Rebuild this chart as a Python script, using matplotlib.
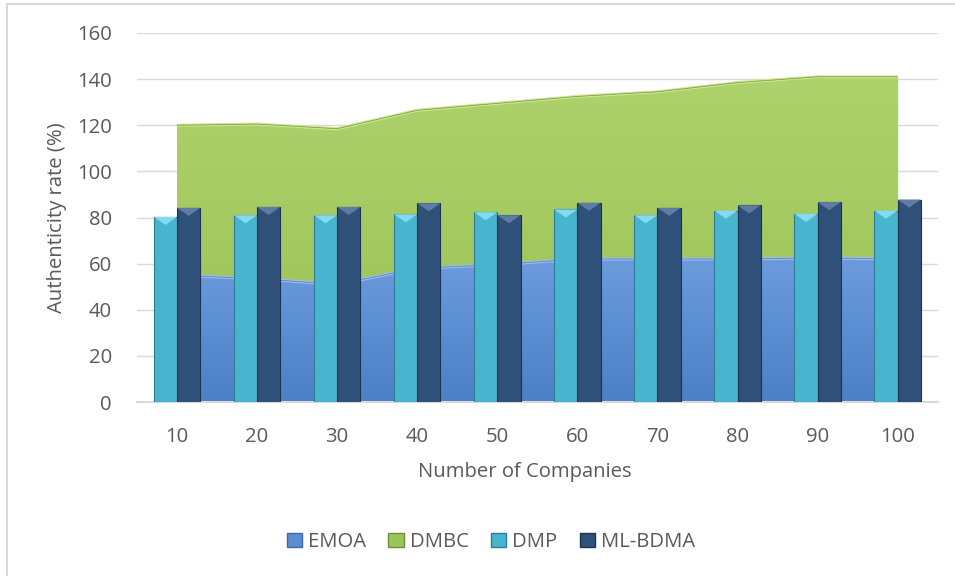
import matplotlib
matplotlib.use("Agg")
import matplotlib.pyplot as plt
import numpy as np
from matplotlib.patches import Patch, Polygon
from matplotlib.colors import LinearSegmentedColormap

# ---- data ----
categories = ["10", "20", "30", "40", "50", "60", "70", "80", "90", "100"]
emoa = [55, 53.5, 51, 58, 59.5, 62, 62, 62, 62.5, 62]
dmbc = [120, 120.5, 118.5, 126.5, 129.5, 132.5, 134.5, 138.5, 141, 141]
dmp = [80.3, 81, 81, 81.4, 82.3, 83.5, 81, 83, 81.6, 83]
ml_bdma = [84.2, 84.6, 84.6, 86.2, 81, 86.4, 84.2, 85.3, 86.7, 87.8]
y_ticks = [0, 20, 40, 60, 80, 100, 120, 140, 160]

plt.rcParams['font.family'] = ['Open Sans', 'DejaVu Sans']
txt = '#595959'
grid = '#D9D9D9'
fs = 14.6

fig = plt.figure(figsize=(9.55, 5.76), dpi=100)
ax = fig.add_axes([137 / 955, 1 - 402 / 576, (937.7 - 137) / 955, (402 - 33) / 576])
x = np.arange(len(categories))
ax.set_xlim(-0.5, len(categories) - 0.5)
ax.set_ylim(0, 160)

# grid
for t in y_ticks[1:]:
    ax.axhline(t, color=grid, lw=1.0, zorder=0)

# areas with vertical gradients
def grad_fill(xs, y0, y1, c_top, c_bot, z):
    poly = ax.fill_between(xs, y0, y1, color=c_top, lw=0, zorder=z)
    cmap = LinearSegmentedColormap.from_list('g', [c_bot, c_top])
    g = np.linspace(0, 1, 256).reshape(-1, 1)
    im = ax.imshow(g, cmap=cmap, aspect='auto', origin='lower',
                   extent=[xs[0], xs[-1], 0, max(y1)], zorder=z + 0.1)
    path = poly.get_paths()[0]
    im.set_clip_path(path, transform=ax.transData)
    return poly

grad_fill(x, emoa, dmbc, '#AED26C', '#98C054', 1)
ax.plot(x, dmbc, color='#CFE894', lw=2.2, zorder=1.3, solid_capstyle='butt')
ax.plot(x, dmbc, color='#7E9E44', lw=0.6, zorder=1.35)
grad_fill(x, np.zeros(len(x)), emoa, '#6C9CDE', '#4B7FC7', 2)
ax.plot(x, emoa, color='#9CC1F0', lw=2.2, zorder=2.3)
ax.plot(x, emoa, color='#5A7FB0', lw=0.6, zorder=2.35)

# bars
w = 0.29
b1 = ax.bar(x - w / 2, dmp, width=w, color='#47B5CD', edgecolor='#2A7F94', lw=0.8, zorder=3)
b2 = ax.bar(x + w / 2, ml_bdma, width=w, color='#2F5079', edgecolor='#1D3350', lw=0.8, zorder=3)

# bevel triangles at bar tops
fig.canvas.draw()
p0 = ax.transData.transform((0, 0))
p1 = ax.transData.transform((1, 1))
px_per_x = p1[0] - p0[0]
px_per_y = p1[1] - p0[1]
for bars, light in ((b1, '#86DAEE'), (b2, '#5F7CA6')):
    for r in bars:
        xl = r.get_x()
        xr = xl + r.get_width()
        top = r.get_height()
        tri_h = (r.get_width() * px_per_x * 0.35) / px_per_y
        ax.add_patch(Polygon([(xl, top), (xr, top), ((xl + xr) / 2, top - tri_h)],
                             closed=True, facecolor=light, edgecolor='none', zorder=3.2))

# axes styling
for s in ('top', 'right', 'left'):
    ax.spines[s].set_visible(False)
ax.spines['bottom'].set_color(grid)
ax.spines['bottom'].set_linewidth(1.5)
ax.set_xticks(x)
ax.set_xticklabels(categories)
ax.set_yticks(y_ticks)
ax.tick_params(axis='both', length=0, labelsize=fs, colors=txt)
ax.tick_params(axis='x', pad=18)
ax.tick_params(axis='y', pad=18)

fig.text(525 / 955, 1 - 472 / 576, 'Number of Companies', ha='center', va='center',
         fontsize=fs, color=txt)
fig.text(57 / 955, 1 - 218 / 576, 'Authenticity rate (%)', ha='center', va='center',
         rotation=90, fontsize=fs, color=txt)

handles = [Patch(facecolor='#5B8DD4', edgecolor='#3F6AA8'),
           Patch(facecolor='#9BC45A', edgecolor='#6E8F3A'),
           Patch(facecolor='#47B5CD', edgecolor='#2A7F94'),
           Patch(facecolor='#2F5079', edgecolor='#1D3350')]
fig.legend(handles, ['EMOA', 'DMBC', 'DMP', 'ML-BDMA'], loc='center',
           bbox_to_anchor=(491 / 955, 1 - 542 / 576), ncol=4, frameon=False,
           fontsize=fs, labelcolor=txt, handlelength=0.75, handleheight=0.75,
           handletextpad=0.3, columnspacing=1.1)

# chart border (left/top visible)
fig.add_artist(plt.Line2D([7 / 955, 7 / 955], [0, 1 - 4 / 576], color='#D9D9D9', lw=1.5,
                          transform=fig.transFigure))
fig.add_artist(plt.Line2D([7 / 955, 1], [1 - 4 / 576, 1 - 4 / 576], color='#D9D9D9', lw=1.5,
                          transform=fig.transFigure))

fig.savefig('out.png', dpi=100, facecolor='white')
